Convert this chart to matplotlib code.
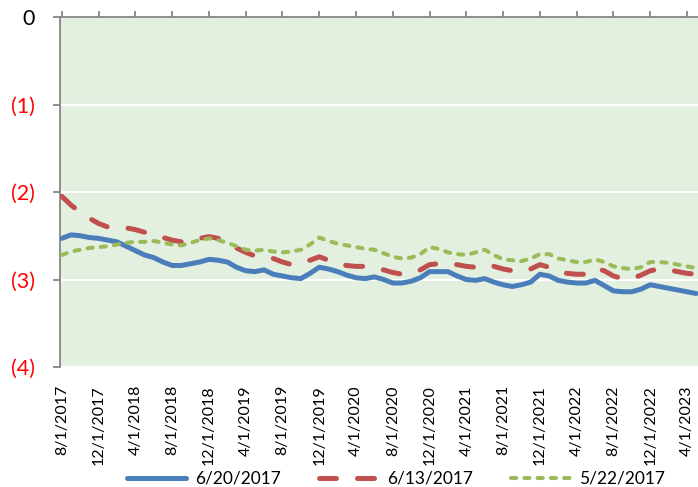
import matplotlib
matplotlib.use("Agg")
import matplotlib.pyplot as plt
import numpy as np

plt.rcParams['font.family'] = ['Lato', 'DejaVu Sans']

series_names = ["6/20/2017", "6/13/2017", "5/22/2017"]

s_0620 = [-2.53, -2.49, -2.50, -2.52, -2.53, -2.55, -2.57, -2.62, -2.67, -2.72,
          -2.75, -2.80, -2.84, -2.84, -2.82, -2.80, -2.77, -2.78, -2.80, -2.86,
          -2.90, -2.91, -2.89, -2.94, -2.96, -2.98, -2.99, -2.93, -2.86, -2.88,
          -2.91, -2.95, -2.98, -2.99, -2.97, -3.00, -3.04, -3.04, -3.02, -2.98,
          -2.91, -2.91, -2.91, -2.96, -3.00, -3.01, -2.99, -3.03, -3.06, -3.08,
          -3.06, -3.03, -2.94, -2.96, -3.01, -3.03, -3.04, -3.04, -3.01, -3.07,
          -3.13, -3.14, -3.14, -3.11, -3.06, -3.08, -3.10, -3.12, -3.14, -3.16]

s_0613 = [-2.05, -2.15, -2.23, -2.30, -2.36, -2.40, -2.40, -2.41, -2.43, -2.46,
          -2.49, -2.52, -2.55, -2.57, -2.56, -2.53, -2.51, -2.53, -2.58, -2.64,
          -2.69, -2.73, -2.74, -2.76, -2.80, -2.83, -2.80, -2.78, -2.74, -2.78,
          -2.82, -2.84, -2.85, -2.85, -2.87, -2.89, -2.92, -2.94, -2.93, -2.89,
          -2.83, -2.82, -2.82, -2.83, -2.85, -2.86, -2.83, -2.85, -2.88, -2.90,
          -2.91, -2.88, -2.83, -2.86, -2.91, -2.93, -2.94, -2.94, -2.87, -2.90,
          -2.96, -2.99, -2.99, -2.95, -2.90, -2.88, -2.89, -2.91, -2.93, -2.94]

s_0522 = [-2.72, -2.68, -2.66, -2.64, -2.63, -2.62, -2.60, -2.58, -2.57, -2.57,
          -2.56, -2.58, -2.60, -2.61, -2.58, -2.55, -2.53, -2.55, -2.58, -2.62,
          -2.66, -2.67, -2.66, -2.68, -2.69, -2.68, -2.66, -2.60, -2.52, -2.56,
          -2.59, -2.61, -2.63, -2.65, -2.66, -2.70, -2.74, -2.76, -2.75, -2.71,
          -2.63, -2.65, -2.69, -2.71, -2.72, -2.69, -2.66, -2.72, -2.77, -2.78,
          -2.79, -2.76, -2.71, -2.71, -2.76, -2.78, -2.80, -2.80, -2.77, -2.80,
          -2.85, -2.87, -2.88, -2.86, -2.80, -2.80, -2.81, -2.83, -2.85, -2.87]

x_tick_labels = ["8/1/2017", "12/1/2017", "4/1/2018", "8/1/2018", "12/1/2018",
                 "4/1/2019", "8/1/2019", "12/1/2019", "4/1/2020", "8/1/2020",
                 "12/1/2020", "4/1/2021", "8/1/2021", "12/1/2021", "4/1/2022",
                 "8/1/2022", "12/1/2022", "4/1/2023"]
y_ticks = [0, -1, -2, -3, -4]
y_tick_labels = ["0", "(1)", "(2)", "(3)", "(4)"]

fig = plt.figure(figsize=(6.98, 4.87), dpi=100)
ax = fig.add_axes([60 / 698, 1 - 367 / 487, 638 / 698, 350 / 487])
ax.set_facecolor("#E3F0E0")

x = np.arange(len(s_0620))
ax.plot(x, s_0620, color="#4A7EBB", lw=3.6, solid_capstyle="round",
        solid_joinstyle="round", label=series_names[0], zorder=3)
ax.plot(x, s_0613, color="#C0504D", lw=3.6, linestyle=(0, (3.4, 4.2)),
        dash_capstyle="round", label=series_names[1], zorder=3)
ax.plot(x, s_0522, color="#9BBB59", lw=2.9, linestyle=(0, (1.3, 2.0)),
        dash_capstyle="round", label=series_names[2], zorder=3)

ax.set_ylim(-4, 0)
ax.set_xlim(-0.2, 69.2)

ax.set_yticks(y_ticks)
ax.set_yticklabels(y_tick_labels, fontsize=15.5)
for lbl, v in zip(ax.get_yticklabels(), y_ticks):
    lbl.set_color("black" if v == 0 else "#FF0000")

ax.set_xticks(np.arange(0, 4 * len(x_tick_labels), 4))
ax.set_xticklabels(x_tick_labels, rotation=90, fontsize=11.5)

ax.yaxis.grid(True, color="white", lw=1.6)
ax.xaxis.grid(False)
ax.set_axisbelow(True)

for side in ["right", "bottom"]:
    ax.spines[side].set_visible(False)
for side in ["left", "top"]:
    ax.spines[side].set_color("#868686")
    ax.spines[side].set_linewidth(1.3)

ax.tick_params(axis="y", which="both", direction="out", length=5, width=1.3,
               color="#868686", pad=13)
ax.tick_params(axis="x", which="both", top=True, bottom=False,
               labeltop=False, labelbottom=True, direction="out", length=4,
               width=1.3, color="#868686", pad=9)

fig.legend(loc="center", bbox_to_anchor=(396 / 698, 1 - 479 / 487), ncol=3,
           frameon=False, fontsize=12.5, handlelength=3.4, columnspacing=2.2,
           handletextpad=0.5, borderpad=0.0)

fig.savefig("out.png", dpi=100)
